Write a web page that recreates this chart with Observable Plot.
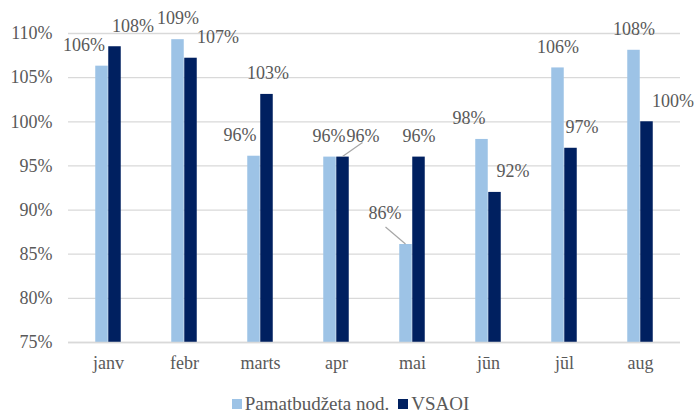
<!DOCTYPE html>
<html>
<head>
<meta charset="utf-8">
<script src="https://cdn.jsdelivr.net/npm/d3@7"></script>
<script src="https://cdn.jsdelivr.net/npm/@observablehq/plot@0.6"></script>
<style>
  html, body { margin: 0; padding: 0; background: #fff; }
  #chart { width: 695px; }
  #chart svg, #chart svg text { font-family: "Liberation Serif", "Times New Roman", serif !important; }
  .legend { display: flex; justify-content: center; align-items: center; gap: 9px;
    font-family: "Liberation Serif", "Times New Roman", serif; font-size: 19px; color: #595959;
    height: 28px; margin-left: 6px; }
  .legend span.sw { display: inline-block; width: 10px; height: 10px; margin-right: 3px; }
  .legend .item { display: flex; align-items: center; }
</style>
</head>
<body>
<div id="chart"></div>
<script>
const months = ["janv", "febr", "marts", "apr", "mai", "jūn", "jūl", "aug"];
const seriesNames = ["Pamatbudžeta nod.", "VSAOI"];
const pamatValues = [106.3, 109.3, 96.1, 96, 86.1, 98, 106.1, 108.1];
const vsaoiValues = [108.5, 107.2, 103.1, 96, 96, 92, 97, 100];
const pamatLabels = ["106%", "109%", "96%", "96%", "86%", "98%", "106%", "108%"];
const vsaoiLabels = ["108%", "107%", "103%", "96%", "96%", "92%", "97%", "100%"];
const yTicks = [75, 80, 85, 90, 95, 100, 105, 110];

// label nudges (styling only)
const pamatLabelDx = [-18, 0, -14, -1, -21, -13, 0, 0];
const vsaoiLabelDx = [18, 27, 1, 20, 0, 18, 11, 26];
const pamatLabelDy = [-21, -21, -21, -21, -31, -21, -21, -21];
const vsaoiLabelDy = [-21, -21, -21, -21, -21, -21, -21, -21];
// leader lines (styling only)
const leaders = [{series: 1, i: 3, ex: 20, ey: -14}, {series: 0, i: 4, ex: -20, ey: -17}];

const colors = ["#9DC3E6", "#002060"];
const FONT = "\"Liberation Serif\", \"Times New Roman\", serif";

const pamat = months.map((m, i) => ({month: m, value: pamatValues[i], label: pamatLabels[i]}));
const vsaoi = months.map((m, i) => ({month: m, value: vsaoiValues[i], label: vsaoiLabels[i]}));

const W = 695, ML = 68, MR = 15;
const step = (W - ML - MR) / months.length;
const barW = 13;
const outer = (step - 2 * barW) / 2;

const labelMarks = [];
pamat.forEach((d, i) => labelMarks.push(Plot.text([d], {
  x: "month", y: "value", text: "label", dx: -barW / 2 + pamatLabelDx[i], dy: pamatLabelDy[i],
  fill: "#595959", fontSize: 18, fontFamily: FONT
})));
vsaoi.forEach((d, i) => labelMarks.push(Plot.text([d], {
  x: "month", y: "value", text: "label", dx: barW / 2 + vsaoiLabelDx[i], dy: vsaoiLabelDy[i],
  fill: "#595959", fontSize: 18, fontFamily: FONT
})));

function leaderMark(index, scales) {
  const g = document.createElementNS("http://www.w3.org/2000/svg", "g");
  const bw = scales.x.bandwidth ? scales.x.bandwidth() : step;
  leaders.forEach(L => {
    const vals = L.series === 0 ? pamatValues : vsaoiValues;
    const cx = scales.x(months[L.i]) + bw / 2 + (L.series === 0 ? -barW / 2 : barW / 2);
    const cy = scales.y(vals[L.i]);
    const line = document.createElementNS("http://www.w3.org/2000/svg", "line");
    line.setAttribute("x1", cx); line.setAttribute("y1", cy);
    line.setAttribute("x2", cx + L.ex); line.setAttribute("y2", cy + L.ey);
    line.setAttribute("stroke", "#a6a6a6"); line.setAttribute("stroke-width", 1.2);
    g.appendChild(line);
  });
  return g;
}

const plot = Plot.plot({
  width: W,
  height: 390,
  marginLeft: ML,
  marginRight: MR,
  marginTop: 33,
  marginBottom: 48,
  style: {fontFamily: FONT, fontSize: "18px", color: "#595959", background: "#fff", overflow: "visible"},
  x: {domain: months, padding: 0, label: null, tickSize: 0, tickPadding: 14},
  y: {domain: [75, 110], ticks: yTicks, tickFormat: d => d + "%", label: null, tickSize: 0, tickPadding: 16},
  marks: [
    Plot.gridY(yTicks, {stroke: "#d9d9d9", strokeOpacity: 1, strokeWidth: 1.3}),
    Plot.barY(pamat, {x: "month", y1: () => 75, y2: "value", fill: colors[0], insetLeft: outer, insetRight: outer + barW}),
    Plot.barY(vsaoi, {x: "month", y1: () => 75, y2: "value", fill: colors[1], insetLeft: outer + barW, insetRight: outer}),
    Plot.ruleY([75], {stroke: "#d9d9d9", strokeWidth: 1.3}),
    leaderMark,
    ...labelMarks
  ]
});
document.getElementById("chart").appendChild(plot);

const legend = document.createElement("div");
legend.className = "legend";
seriesNames.forEach((name, i) => {
  const item = document.createElement("div");
  item.className = "item";
  const sw = document.createElement("span");
  sw.className = "sw";
  sw.style.background = colors[i];
  item.appendChild(sw);
  item.appendChild(document.createTextNode(name));
  legend.appendChild(item);
});
document.getElementById("chart").appendChild(legend);
</script>
</body>
</html>
